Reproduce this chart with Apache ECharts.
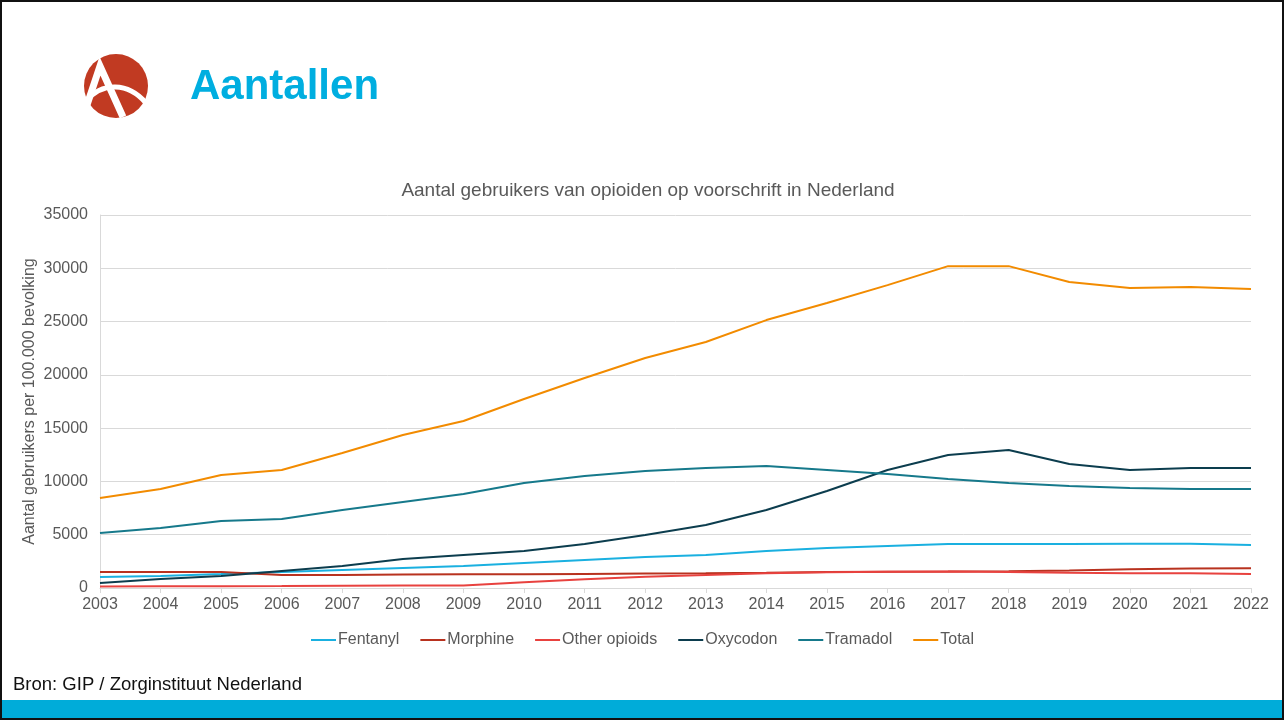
<!DOCTYPE html>
<html>
<head>
<meta charset="utf-8">
<script src="https://cdn.jsdelivr.net/npm/echarts@6/dist/echarts.min.js"></script>
<style>
  html, body { margin: 0; padding: 0; background: #fff; }
  #page { position: relative; width: 1284px; height: 720px; overflow: hidden; }
  #chart { position: absolute; left: 0; top: 0; width: 1284px; height: 720px; }
</style>
</head>
<body>
<div id="page"><div id="chart"></div></div>
<script>
// Jaren en aantallen gebruikers per 100.000 inwoners
const years = ['2003','2004','2005','2006','2007','2008','2009','2010','2011','2012',
               '2013','2014','2015','2016','2017','2018','2019','2020','2021','2022'];
const fentanyl = [1030,1130,1310,1500,1690,1880,2060,2350,2630,2910,3100,3470,3750,3940,4130,4130,4130,4150,4150,4030];
const morphine = [1500,1500,1500,1220,1230,1260,1280,1300,1320,1350,1380,1430,1500,1520,1540,1580,1650,1750,1830,1850];
const otherOpioids = [150,160,170,180,200,230,240,550,820,1050,1230,1380,1480,1520,1540,1500,1420,1380,1390,1320];
const oxycodon = [470,840,1130,1600,2060,2720,3100,3470,4130,4970,5910,7320,9100,11070,12480,12950,11630,11070,11260,11260];
const tramadol = [5160,5630,6290,6470,7320,8070,8820,9850,10510,10980,11260,11450,11070,10700,10230,9850,9570,9380,9290,9290];
const total = [8440,9290,10600,11070,12660,14350,15670,17730,19700,21580,23080,25140,26740,28420,30200,30200,28710,28140,28240,28050];
const yTicks = [0, 5000, 10000, 15000, 20000, 25000, 30000, 35000];

const seriesDefs = [
  { name: 'Fentanyl', data: fentanyl, color: '#1ab0e0' },
  { name: 'Morphine', data: morphine, color: '#b8321f' },
  { name: 'Other opioids', data: otherOpioids, color: '#e8423f' },
  { name: 'Oxycodon', data: oxycodon, color: '#0c3d4e' },
  { name: 'Tramadol', data: tramadol, color: '#16798b' },
  { name: 'Total', data: total, color: '#f28b00' }
];

const FONT = '"Liberation Sans", Arial, sans-serif';
const chart = echarts.init(document.getElementById('chart'), null, { renderer: 'canvas' });

chart.setOption({
  animation: false,
  backgroundColor: '#ffffff',
  textStyle: { fontFamily: FONT },
  title: {
    text: 'Aantal gebruikers van opioiden op voorschrift in Nederland',
    left: 643, top: 176, textAlign: 'center',
    textStyle: { color: '#595959', fontSize: 19, fontWeight: 'normal', fontFamily: FONT }
  },
  legend: {
    left: 306, top: 627,
    icon: 'rect', itemWidth: 25, itemHeight: 2, itemGap: 21,
    textStyle: { color: '#595959', fontSize: 16, fontFamily: FONT, padding: [0, 0, 0, -3] },
    data: seriesDefs.map(s => s.name)
  },
  grid: { left: 100, right: 33, top: 215, bottom: 132, containLabel: false },
  xAxis: {
    type: 'category', data: years, boundaryGap: false,
    axisLine: { lineStyle: { color: '#d9d9d9', width: 1 } },
    axisTick: { show: true, alignWithLabel: true, length: 5, lineStyle: { color: '#d9d9d9' } },
    axisLabel: { color: '#595959', fontSize: 16, fontFamily: FONT, margin: 9 }
  },
  yAxis: {
    type: 'value', min: yTicks[0], max: yTicks[yTicks.length - 1], interval: 5000,
    name: 'Aantal gebruikers per 100.000 bevolking',
    nameLocation: 'middle', nameGap: 62, nameRotate: 90, nameMoveOverlap: false,
    nameTextStyle: { color: '#595959', fontSize: 16, fontFamily: FONT },
    axisLine: { show: true, lineStyle: { color: '#d9d9d9' } },
    axisTick: { show: false },
    axisLabel: { color: '#595959', fontSize: 16, fontFamily: FONT, margin: 12,
                 formatter: v => String(v) },
    splitLine: { lineStyle: { color: '#d9d9d9', width: 1 } }
  },
  series: seriesDefs.map(s => ({
    name: s.name, type: 'line', data: s.data,
    showSymbol: false, symbol: 'none',
    lineStyle: { color: s.color, width: 2 },
    itemStyle: { color: s.color },
    emphasis: { disabled: true }
  })),
  graphic: [
    // kader rond de dia
    { type: 'rect', shape: { x: 1, y: 1, width: 1282, height: 718 },
      style: { fill: 'none', stroke: '#111', lineWidth: 2 }, z: 100 },
    // onderbalk
    { type: 'rect', shape: { x: 0, y: 700, width: 1284, height: 20 },
      style: { fill: '#00acd9' }, z: 90 },
    // logo
    { type: 'circle', shape: { cx: 116, cy: 86, r: 32 }, style: { fill: '#c13a22' }, z: 50 },
    { type: 'polyline', shape: { points: [[87, 105], [100, 66], [123, 117]] },
      style: { stroke: '#ffffff', lineWidth: 7, fill: 'none', lineJoin: 'miter' }, z: 51 },
    { type: 'bezierCurve', shape: { x1: 86, y1: 101, cpx1: 102, cpy1: 82, cpx2: 128, cpy2: 82, x2: 146, y2: 103 },
      style: { stroke: '#ffffff', lineWidth: 5, fill: 'none' }, z: 51 },
    // kop
    { type: 'text', left: 190, top: 66,
      style: { text: 'Aantallen', fill: '#00aee0', font: 'bold 42px ' + FONT }, z: 50 },
    // bron
    { type: 'text', left: 13, top: 675,
      style: { text: 'Bron: GIP / Zorginstituut Nederland', fill: '#111', font: '18.5px ' + FONT }, z: 50 }
  ]
});
</script>
</body>
</html>
